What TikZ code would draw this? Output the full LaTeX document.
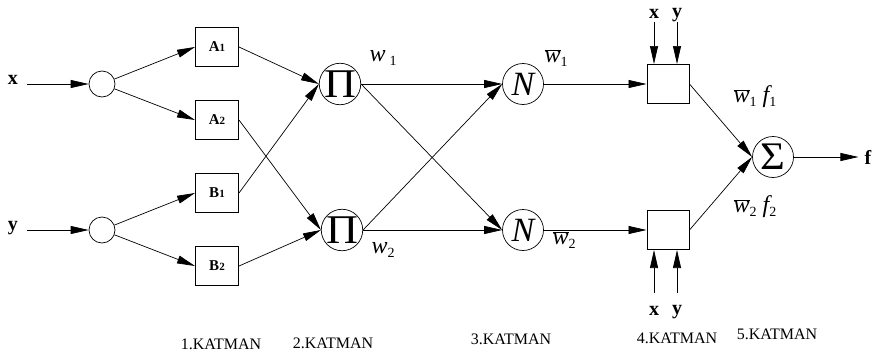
\documentclass[tikz,border=0pt]{standalone}
\usepackage{fontspec}
\setmainfont{Liberation Serif}
\usetikzlibrary{arrows.meta}
\newcommand{\mysub}[1]{{\upshape\fontsize{14}{16}\selectfont\raisebox{-4pt}{#1}}}
\newcommand{\wbar}{\(\overline{\mbox{\itshape w}}\)}
\begin{document}
\begin{tikzpicture}[x=1pt,y=-1pt,
  arr/.style={-{Triangle[length=18pt,width=8pt]}, line width=0.7pt},
  smallc/.style={circle,draw,line width=0.7pt,minimum size=26pt,inner sep=0pt},
  bigc/.style={circle,draw,line width=0.7pt,minimum size=41pt,inner sep=0pt,font=\fontsize{34}{36}\selectfont},
  mf/.style={rectangle,draw,line width=1pt,minimum width=43pt,minimum height=39pt,inner sep=0pt,font=\fontsize{15}{17}\selectfont\bfseries},
  inp/.style={font=\fontsize{20}{22}\selectfont\bfseries, inner sep=0pt},
  lay/.style={font=\fontsize{16}{18}\selectfont, inner sep=0pt},
  wl/.style={font=\fontsize{24}{26}\selectfont\itshape, inner sep=0pt}
]
\useasboundingbox (0,0) rectangle (875,356);
% inputs
\node[inp] (x) at (13,80) {x};
\node[inp] (y) at (13,228) {y};
\coordinate (xs) at (27,84);
\coordinate (ys) at (27,230);
% layer 1
\node[smallc] (c1) at (102,84) {};
\node[smallc] (c2) at (102,230) {};
\node[mf] (A1) at (217,47) {A{\fontsize{11}{12}\selectfont 1}};
\node[mf] (A2) at (217,120) {A{\fontsize{11}{12}\selectfont 2}};
\node[mf] (B1) at (217,193) {B{\fontsize{11}{12}\selectfont 1}};
\node[mf] (B2) at (217,266) {B{\fontsize{11}{12}\selectfont 2}};
% layer 2,3
\node[bigc] (P1) at (340,84) {\scalebox{1.3}[1.2]{Π}};
\node[bigc] (P2) at (342,230) {\scalebox{1.3}[1.2]{Π}};
\node[bigc] (N1) at (523,84) {\itshape N};
\node[bigc] (N2) at (523,230) {\itshape N};
% layer 4
\node[rectangle,draw,line width=1pt,minimum width=42pt,minimum height=39pt] (D1) at (668,84) {};
\node[rectangle,draw,line width=1pt,minimum width=42pt,minimum height=39pt] (D2) at (668,230) {};
% layer 5
\node[bigc] (S) at (773,157) {\scalebox{1.25}[1.15]{Σ}};
\node[inp] (f) at (868,157) {f};
% x y inputs for layer 4
\node[inp] (xt) at (654,14) {x};
\node[inp] (yt) at (677,15) {y};
\node[inp] (xb) at (654,311) {x};
\node[inp] (yb) at (677,312) {y};
\coordinate (xta) at (654,22);
\coordinate (yta) at (677,22);
\coordinate (xba) at (654,293);
\coordinate (yba) at (677,293);
% connectors
\draw[arr] (xs) -- (c1);
\draw[arr] (ys) -- (c2);
\draw[arr] (c1) -- (A1.west);
\draw[arr] (c1) -- (A2.west);
\draw[arr] (c2) -- (B1.west);
\draw[arr] (c2) -- (B2.west);
\draw[arr] (A1.east) -- (P1.west);
\draw[arr] (B1.east) -- (P1.west);
\draw[arr] (A2.east) -- (P2.west);
\draw[arr] (B2.east) -- (P2.west);
\draw[arr] (P1.east) -- (N1.west);
\draw[arr] (P1.east) -- (N2.west);
\draw[arr] (P2.east) -- (N1.west);
\draw[arr] (P2.east) -- (N2.west);
\draw[arr] (N1.east) -- (D1.west);
\draw[arr] (N2.east) -- (D2.west);
\draw[arr] (D1.east) -- (S.west);
\draw[arr] (D2.east) -- (S.west);
\draw[arr] (S.east) -- ([xshift=-6pt]f.west);
\draw[arr] (xta) -- (xta |- D1.north);
\draw[arr] (yta) -- (yta |- D1.north);
\draw[arr] (xba) -- (xba |- D2.south);
\draw[arr] (yba) -- (yba |- D2.south);
% weight labels
\node[wl] (lw1) at (383,58) {w\,\mysub{1}};
\node[wl] (lw2) at (383,250) {w\mysub{2}};
\node[wl] (lwb1) at (556,58) {\wbar\mysub{1}};
\node[wl] (lwb2) at (564,240) {\wbar\mysub{2}};
\node[wl] (lf1) at (755,97) {\wbar\mysub{1} f\mysub{1}};
\node[wl] (lf2) at (755,207) {\wbar\mysub{2} f\mysub{2}};
% layer labels
\node[lay] (k1) at (221,344) {1.KATMAN};
\node[lay] (k2) at (333,343) {2.KATMAN};
\node[lay] (k3) at (511,339) {3.KATMAN};
\node[lay] (k4) at (677,338) {4.KATMAN};
\node[lay] (k5) at (777,334) {5.KATMAN};
\end{tikzpicture}
\end{document}
